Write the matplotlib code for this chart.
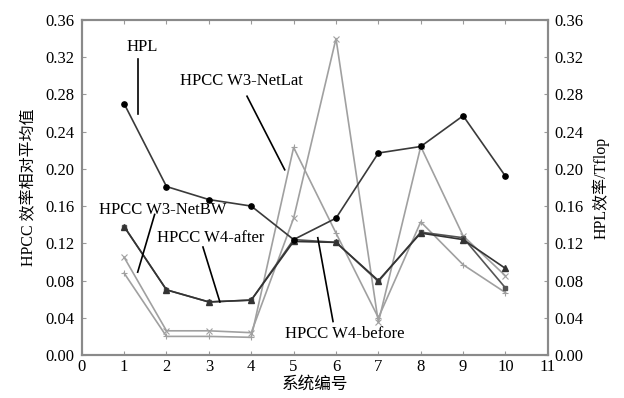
import matplotlib
matplotlib.use("Agg")
import matplotlib.pyplot as plt

plt.rcParams['font.family'] = ['Liberation Serif', 'Noto Sans CJK SC', 'DejaVu Sans']

systems = [1, 2, 3, 4, 5, 6, 7, 8, 9, 10]
hpl = [0.270, 0.181, 0.167, 0.160, 0.124, 0.147, 0.217, 0.224, 0.257, 0.192]
w3_netbw = [0.105, 0.026, 0.026, 0.024, 0.147, 0.340, 0.035, 0.224, 0.128, 0.085]
w3_netlat = [0.088, 0.020, 0.020, 0.019, 0.223, 0.131, 0.040, 0.143, 0.097, 0.067]
w4_after = [0.138, 0.070, 0.057, 0.059, 0.122, 0.121, 0.080, 0.131, 0.124, 0.093]
w4_before = [0.138, 0.070, 0.057, 0.059, 0.124, 0.121, 0.079, 0.132, 0.126, 0.072]

yticks = [0.00, 0.04, 0.08, 0.12, 0.16, 0.20, 0.24, 0.28, 0.32, 0.36]
xticks = list(range(0, 12))

fig = plt.figure(figsize=(6.24, 3.98), dpi=100)
ax = fig.add_axes([0.131, 0.108, 0.747, 0.842])
ax2 = ax.twinx()

ax.plot(systems, w3_netbw, color='#a0a0a0', lw=1.2, marker='x', ms=4, mew=0.8)
ax.plot(systems, w3_netlat, color='#a0a0a0', lw=1.2, marker='+', ms=4, mew=0.8)
ax.plot(systems, w4_before, color='#555555', lw=1.2, marker='s', ms=3.5)
ax.plot(systems, w4_after, color='#333333', lw=1.2, marker='^', ms=4)
ax2.plot(systems, hpl, color='#3a3a3a', lw=1.2, marker='o', ms=3.8, mfc='black', mec='black')

for a in (ax, ax2):
    a.set_ylim(0, 0.36)
    a.set_yticks(yticks)
    a.set_yticklabels([f"{v:.2f}" for v in yticks])
    for s in a.spines.values():
        s.set_color('#8a8a8a')
        s.set_linewidth(1.5)
    a.tick_params(direction='in', length=3, color='#9a9a9a', labelsize=12, pad=5)

ax.set_xlim(0, 11)
ax.set_xticks(xticks)
ax.tick_params(axis='x', top=True, direction='in', labelsize=12, pad=3)

ax.set_ylabel('HPCC 效率相对平均值', fontsize=11.5, labelpad=6)
ax2.set_ylabel('HPL效率/Tflop', fontsize=11.5, labelpad=6)
ax.set_xlabel('系统编号', fontsize=12, labelpad=1)

tkw = dict(fontsize=12, ha='center', va='center')
ax.text(1.42, 0.331, 'HPL', **tkw)
ax.plot([1.32, 1.32], [0.318, 0.259], color='black', lw=1.2)
ax.text(3.78, 0.294, 'HPCC W3-NetLat', **tkw)
ax.plot([3.9, 4.79], [0.278, 0.199], color='black', lw=1.2)
ax.text(1.91, 0.156, 'HPCC W3-NetBW', **tkw)
ax.plot([1.72, 1.32], [0.151, 0.089], color='black', lw=1.2)
ax.text(3.05, 0.126, 'HPCC W4-after', **tkw)
ax.plot([2.86, 3.26], [0.116, 0.057], color='black', lw=1.2)
ax.text(6.21, 0.023, 'HPCC W4-before', **tkw)
ax.plot([5.57, 5.93], [0.126, 0.036], color='black', lw=1.2)

fig.savefig('out.png', dpi=100)
